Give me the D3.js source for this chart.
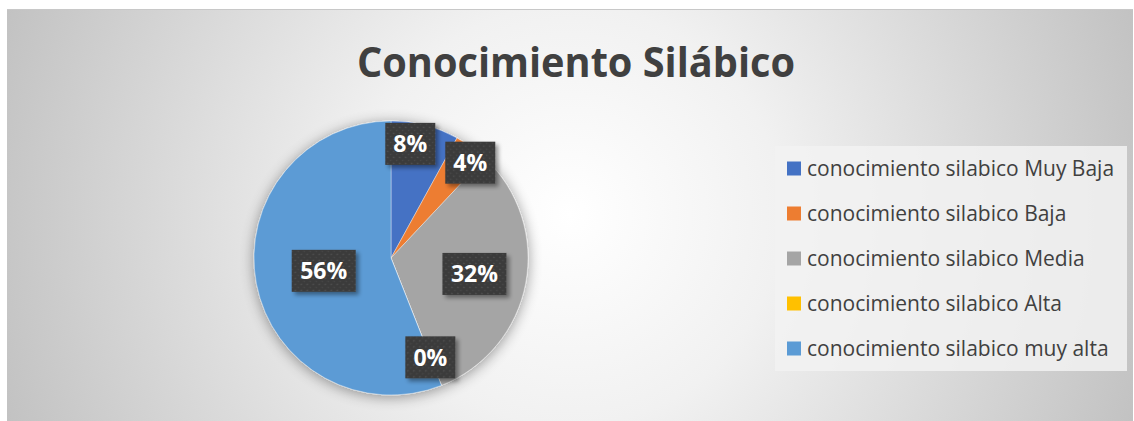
<!DOCTYPE html>
<html>
<head>
<meta charset="utf-8">
<script src="https://cdn.jsdelivr.net/npm/d3@7"></script>
<style>
body{margin:0;background:#ffffff;}
svg{display:block;}
</style>
</head>
<body>
<svg id="chart"></svg>
<script>
// datos del grafico
var categories = ["conocimiento silabico Muy Baja","conocimiento silabico Baja","conocimiento silabico Media","conocimiento silabico Alta","conocimiento silabico muy alta"]
var counts = [2,1,8,0,14]
var percentLabels = ["8%","4%","32%","0%","56%"]
var colors = ["#4472C4","#ED7D31","#A5A5A5","#FFC000","#5B9BD5"]
var title = "Conocimiento Silábico"

var screen = {width:1134,height:421}
var frame = {left:7,top:9,right:1133,bottom:421}

var svg = d3.select("#chart")
    .attr("width",screen.width)
    .attr("height",screen.height)

var defs = svg.append("defs")

var bg = defs.append("radialGradient")
    .attr("id","bgGrad")
    .attr("gradientUnits","userSpaceOnUse")
    .attr("cx",570).attr("cy",215).attr("r",600)
bg.append("stop").attr("offset","0").attr("stop-color","#ffffff")
bg.append("stop").attr("offset","0.35").attr("stop-color","#f1f1f1")
bg.append("stop").attr("offset","1").attr("stop-color","#c2c2c2")

var shadow = defs.append("filter")
    .attr("id","pieShadow")
    .attr("x","-20%").attr("y","-20%").attr("width","140%").attr("height","140%")
shadow.append("feGaussianBlur").attr("in","SourceAlpha").attr("stdDeviation",7)
shadow.append("feOffset").attr("dx",0).attr("dy",2).attr("result","blur")
shadow.append("feComponentTransfer").append("feFuncA").attr("type","linear").attr("slope",0.4)
var merge = shadow.append("feMerge")
merge.append("feMergeNode")
merge.append("feMergeNode").attr("in","SourceGraphic")

var boxShadow = defs.append("filter")
    .attr("id","boxShadow")
    .attr("x","-20%").attr("y","-20%").attr("width","150%").attr("height","150%")
boxShadow.append("feGaussianBlur").attr("in","SourceAlpha").attr("stdDeviation",2)
boxShadow.append("feOffset").attr("dx",3).attr("dy",3)
boxShadow.append("feComponentTransfer").append("feFuncA").attr("type","linear").attr("slope",0.4)
var merge2 = boxShadow.append("feMerge")
merge2.append("feMergeNode")
merge2.append("feMergeNode").attr("in","SourceGraphic")

var dots = defs.append("pattern")
    .attr("id","dots")
    .attr("patternUnits","userSpaceOnUse")
    .attr("width",6).attr("height",6)
dots.append("rect").attr("width",6).attr("height",6).attr("fill","#3b3b3b")
dots.append("circle").attr("cx",1.5).attr("cy",1.5).attr("r",0.8).attr("fill","#555555")
dots.append("circle").attr("cx",4.5).attr("cy",4.5).attr("r",0.8).attr("fill","#4a4a4a")

// fondo
svg.append("rect")
    .attr("x",frame.left)
    .attr("y",frame.top)
    .attr("width",frame.right-frame.left)
    .attr("height",frame.bottom-frame.top)
    .attr("fill","url(#bgGrad)")
svg.append("line")
    .attr("x1",frame.left).attr("x2",frame.right)
    .attr("y1",frame.top+0.5).attr("y2",frame.top+0.5)
    .attr("stroke","#c8c8c8")

// titulo
svg.append("text")
    .text(title)
    .attr("x",576)
    .attr("y",77)
    .attr("text-anchor","middle")
    .attr("font-family","Open Sans")
    .attr("font-weight","bold")
    .attr("font-size",42)
    .attr("textLength",438)
    .attr("lengthAdjust","spacingAndGlyphs")
    .attr("fill","#404040")

// pastel
var center = {x:391,y:258}
var radius = 137

var pie = d3.pie().sort(null).value(function(d){return d.count})
var data = categories.map(function(c,i){
    return {name:c,count:counts[i],label:percentLabels[i],color:colors[i]}
})
var arcs = pie(data)

var arc = d3.arc().innerRadius(0).outerRadius(radius)

var pieG = svg.append("g")
    .attr("transform","translate("+center.x+","+center.y+")")

pieG.append("g")
    .attr("filter","url(#pieShadow)")
    .selectAll("path")
    .data(arcs)
    .enter()
    .append("path")
    .attr("d",arc)
    .attr("fill",function(d){return d.data.color})
    .attr("stroke","#ffffff")
    .attr("stroke-opacity",0.5)
    .attr("stroke-width",0.75)

var labelRadius = function(d){
    var share = (d.endAngle-d.startAngle)/(2*Math.PI)
    if (share==0) return radius*0.78
    if (share<0.1) return radius*0.86
    if (share<0.4) return radius*0.62
    return radius*0.5
}

// posiciones de las etiquetas, separando las que se tocan
var pos = arcs.map(function(d){
    var r = labelRadius(d)
    var c = d3.arc().innerRadius(r).outerRadius(r).centroid(d)
    return {x:c[0],y:c[1],w:d.data.label.length>2 ? 64 : 50}
})
for (var i=1;i<pos.length;i++){
    var a = pos[i-1], b = pos[i]
    var overlap = (a.w+b.w)/2 + 10 - Math.abs(b.x-a.x)
    if (overlap>0 && Math.abs(b.y-a.y)<42){
        var s = b.x>a.x ? 1 : -1
        a.x -= s*overlap/2
        b.x += s*overlap/2
    }
}

var labels = pieG.selectAll(".lbl")
    .data(arcs)
    .enter()
    .append("g")
    .attr("class","lbl")
    .attr("transform",function(d,i){
        return "translate("+pos[i].x+","+pos[i].y+")"
    })

labels.append("rect")
    .attr("x",function(d,i){return -pos[i].w/2})
    .attr("y",-21)
    .attr("width",function(d,i){return pos[i].w})
    .attr("height",42)
    .attr("fill","url(#dots)")
    .attr("filter","url(#boxShadow)")

labels.append("text")
    .text(function(d){return d.data.label})
    .attr("text-anchor","middle")
    .attr("dy","0.36em")
    .attr("font-family","Open Sans")
    .attr("font-weight","bold")
    .attr("font-size",23)
    .attr("fill","#ffffff")

// leyenda
var legend = svg.append("g")
    .attr("transform","translate(775,146)")

legend.append("rect")
    .attr("width",352)
    .attr("height",225)
    .attr("fill","#f2f2f2")
    .attr("fill-opacity",0.85)

var legendY = d3.scaleBand()
    .domain(categories)
    .range([0,225])

var items = legend.selectAll(".item")
    .data(data)
    .enter()
    .append("g")
    .attr("class","item")
    .attr("transform",function(d){
        return "translate(0,"+(legendY(d.name)+legendY.bandwidth()/2)+")"
    })

items.append("rect")
    .attr("x",12)
    .attr("y",-7)
    .attr("width",14)
    .attr("height",14)
    .attr("fill",function(d){return d.color})

items.append("text")
    .text(function(d){return d.name})
    .attr("x",32)
    .attr("dy","0.35em")
    .attr("font-family","Open Sans")
    .attr("font-size",21)
    .attr("fill","#404040")
</script>
</body>
</html>
